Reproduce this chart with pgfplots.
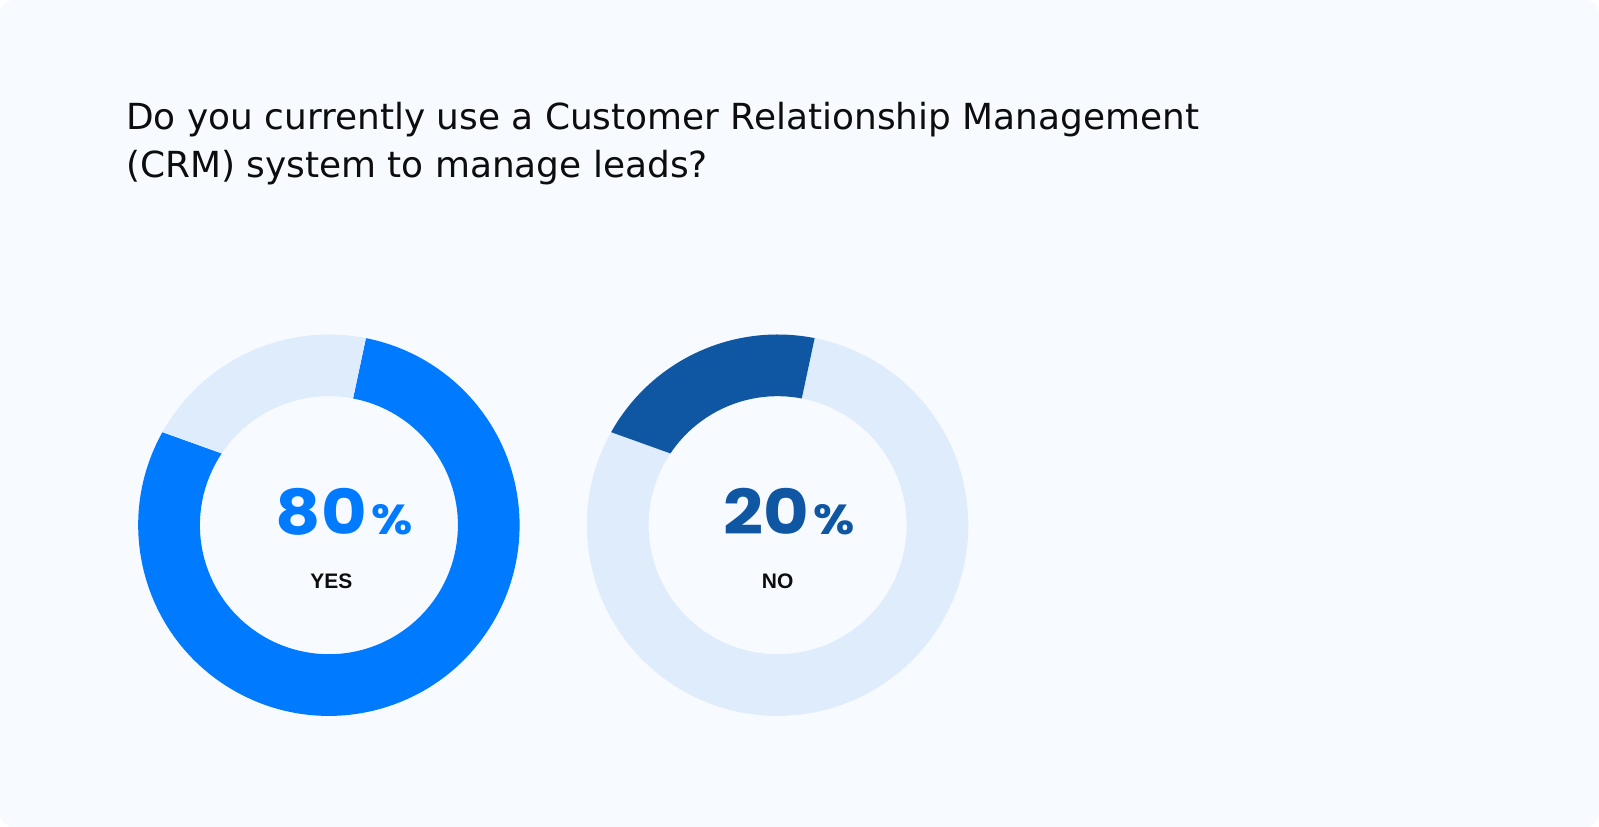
\documentclass[border=0pt]{standalone}
\usepackage{fontspec}
\usepackage{pgfplots}
\usepackage{pgfplotstable}
\pgfplotsset{compat=1.18}
\setmainfont{Liberation Sans}
\newfontfamily\titlefont{DejaVu Sans}
\newfontfamily\numfont{Poppins}
\definecolor{bgc}{HTML}{F7FBFF}
\definecolor{brightblue}{HTML}{007BFF}
\definecolor{darkblue}{HTML}{0F56A3}
\definecolor{lightring}{HTML}{DFECFC}
\definecolor{txt}{HTML}{0D0D0D}

\pgfplotstableread{
label value
YES 80
NO 20
}\crmdata

\newcommand{\seg}[5]{%
  \fill[#1] (axis cs:{cos(#2)},{sin(#2)}) arc[start angle=#2, end angle=#3, radius=190.7pt]
   -- (axis cs:{0.6765*cos(#5)},{0.6765*sin(#5)}) arc[start angle=#5, end angle=#4, radius=129pt] -- cycle;}
\newcommand{\bignum}[1]{\scalebox{1.13}[1]{\numfont\bfseries\fontsize{62}{62}\selectfont #1\kern4pt{\fontsize{42}{42}\selectfont\%}}}

\begin{document}
\begin{tikzpicture}[x=1pt,y=1pt]
\pgfplotstablegetelem{0}{value}\of\crmdata\let\yesval\pgfplotsretval
\pgfplotstablegetelem{1}{value}\of\crmdata\let\noval\pgfplotsretval
\pgfmathsetmacro\oS{78.8}
\pgfmathsetmacro\oE{\oS+3.6*\noval}
\pgfmathsetmacro\iS{\oS+0.4}
\pgfmathsetmacro\iE{\oE-4.6}
\pgfmathsetmacro\oEE{\oE+3.6*\yesval}
\pgfmathsetmacro\iEE{\iS+360}
\fill[bgc, rounded corners=14pt] (0,0) rectangle (1599,827);
\node[anchor=base west, inner sep=0, font=\titlefont\fontsize{35.9}{45}\selectfont, text=txt] at (126,697) {Do you currently use a Customer Relationship Management};
\node[anchor=base west, inner sep=0, font=\titlefont\fontsize{35.9}{45}\selectfont, text=txt] at (126,649.7) {(CRM) system to manage leads?};

\begin{axis}[at={(328.9pt,301.8pt)}, anchor=center, width=381.4pt, height=381.4pt,
  scale only axis, hide axis, xmin=-1, xmax=1, ymin=-1, ymax=1, clip=false]
  \seg{brightblue}{\oE}{\oEE}{\iE}{\iEE}
  \seg{lightring}{\oS}{\oE}{\iS}{\iE}
  \node[anchor=base west, inner sep=0, text=brightblue] at (axis cs:-0.28,-0.05) {\bignum{80}};
  \node[anchor=base, inner sep=0, text=txt, font=\bfseries\fontsize{21}{21}\selectfont] at (axis cs:0.0126,-0.3303) {YES};
\end{axis}

\begin{axis}[at={(777.6pt,301.8pt)}, anchor=center, width=381.4pt, height=381.4pt,
  scale only axis, hide axis, xmin=-1, xmax=1, ymin=-1, ymax=1, clip=false]
  \seg{lightring}{\oE}{\oEE}{\iE}{\iEE}
  \seg{darkblue}{\oS}{\oE}{\iS}{\iE}
  \node[anchor=base west, inner sep=0, text=darkblue] at (axis cs:-0.285,-0.05) {\bignum{20}};
  \node[anchor=base, inner sep=0, text=txt, font=\bfseries\fontsize{21}{21}\selectfont] at (axis cs:0,-0.3303) {NO};
\end{axis}
\end{tikzpicture}
\end{document}
